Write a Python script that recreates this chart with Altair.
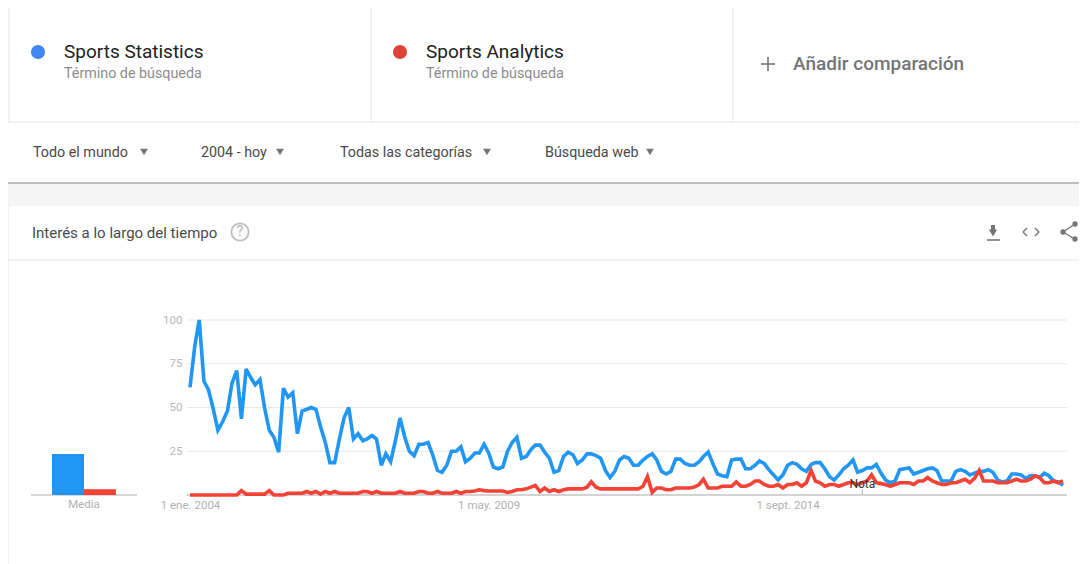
import altair as alt
import pandas as pd

blue = [61.5,85,100,65,60,49,37,42,48,64,71,43.5,72,67,63,66,50,37,33,24.5,
        61,56,58.5,35,48,49,50,49,39,30,18.5,18.5,32,44,50,32,35,31,32,34,
        32,17,23.5,19,31,44,33,25,22.5,29,29,30,23,14,13,17,25,25,27.5,19,
        21,24,24,29,24,16,15,16,25,30,33,21,22,26,28.5,28.5,24.5,21,13,14,
        22,24.5,23,18,20,23.5,23.5,22.5,21,14,10,13.5,20,22,21,17,17,20,22,23.5,
        20,13.5,12,13.5,20.5,20.5,18,17,17,19,22,24.5,18,12,11,10.5,20,20.5,20.5,15,
        15,17,19.5,18,14.5,11.5,8.7,11.5,17,18.5,17.5,15,13.5,17.5,18.5,18.5,15,10.5,8.5,11.5,
        15,17,20,13,14,15.5,15.5,17.5,12.5,8.5,7,8,14.5,15,15.5,12,13,14,15,15.5,
        14,8,8,8,13.5,14.5,13.5,11.5,12.5,13.5,13.5,14.5,13,8.5,7.5,8,12,12,11.5,9.5,
        11,11,10,12.5,11,8,7.5,5.5]
red = [0,0,0,0,0,0,0,0,0,0,0,2.5,0.5,0.5,0.5,0.5,0.5,2.5,0,0,
       0,1,1,1,1,2,1,2,0.5,2,1,2,1,1,1,1,1,2,2,1,
       2,1,1,1,1,2,1,1,1,2,2,1,1,2,1,1,1,2,1,2,
       2,2.3,3,2.5,2.3,2.3,2.3,2.3,1.5,2,3,3,3.5,4.5,5.5,2,4,2,3,2,
       3,3.5,3.5,3.5,3.5,4.5,7.5,4.5,3.5,3.5,3.5,3.5,3.5,3.5,3.5,3.5,3.5,5,10.5,1.5,
       4,4,3,3,4,4,4,4,4.5,6,9,4,4,4,5,5,5,7.5,5,5,
       6,8,8,6,5,5,6,4,6,6,7,5,7,14,8,7,5,6,6,5,
       6,7,7,6,7,8,11.5,7,6.5,6,5,6,7,7,7,6,8,8,10,8,
       7,6,6,7,7,8,9,7,9.5,14,8,8,8,7,7,7,8,9,8,8,
       9,11,10,7,7,8,7,8]
series_names = ["Sports Statistics", "Sports Analytics"]
series_colors = ["#2196f3", "#f44336"]
dot_colors = ["#4285f4", "#db4437"]
media_values = [23.5, 3.3]
y_ticks = [25, 50, 75, 100]
tick_years = ["2004", "2009", "2014"]
tick_dates = ["2004-01-01T00:00:00", "2009-05-01T00:00:00", "2014-09-01T00:00:00"]
tick_labels = ["1 ene. 2004", "1 may. 2009", "1 sept. 2014"]
note_date = "2016-01-01T00:00:00"
filters = ["Todo el mundo", "2004 - hoy", "Todas las categorías", "Búsqueda web"]

dates = pd.date_range("2004-01-01", periods=len(blue), freq="MS").strftime("%Y-%m-%dT00:00:00")
df = pd.DataFrame({
    "date": list(dates) * 2,
    "series": [series_names[0]] * len(blue) + [series_names[1]] * len(red),
    "value": blue + red,
})
df_media = pd.DataFrame({"series": series_names, "value": media_values})

M = 8
one = alt.Data(values=[{"a": 1}])
y_scale = alt.Scale(domain=[0, 100], range=[495 - M, 320 - M])
x_scale = alt.Scale(type="time", domain=[dates[0], dates[-1]], range=[190 - M, 1063 - M])
color_scale = alt.Scale(domain=series_names, range=series_colors)
FONT = "Roboto"


def txt(s, x, y, size, color, align="left", weight=400):
    return alt.Chart(one).mark_text(text=s, font=FONT, fontSize=size, color=color, align=align,
                                    baseline="middle", fontWeight=weight).encode(
        x=alt.value(x - M), y=alt.value(y - M))


def seg(x, y, x2, y2, color, w=1.0):
    return alt.Chart(one).mark_rule(color=color, strokeWidth=w).encode(
        x=alt.value(x - M), x2=alt.value(x2 - M), y=alt.value(y - M), y2=alt.value(y2 - M))


def box(x, y, x2, y2, color):
    return alt.Chart(one).mark_rect(color=color).encode(
        x=alt.value(x - M), x2=alt.value(x2 - M), y=alt.value(y - M), y2=alt.value(y2 - M))


def dot(x, y, size, color, shape="circle", filled=True, w=0.0):
    return alt.Chart(one).mark_point(shape=shape, size=size, filled=filled, color=color, opacity=1,
                                     strokeWidth=w).encode(x=alt.value(x - M), y=alt.value(y - M))


LINE = "#e6e6e6"
GREY = "#757575"
R = 1090
ui = [
    box(8, 184, R, 206, "#f5f5f5"),
    seg(9, 8, 9, 122, LINE), seg(371, 8, 371, 122, LINE), seg(733, 8, 733, 122, LINE),
    seg(8, 122, R, 122, LINE),
    seg(8, 183, R, 183, "#bdbdbd", 2),
    seg(8, 206, 8, 564, LINE),
    seg(8, 260, R, 260, LINE),
    dot(38, 52, 200, dot_colors[0]), dot(400, 52, 200, dot_colors[1]),
    txt(series_names[0], 64, 52, 19, "#212121"),
    txt(series_names[1], 426, 52, 19, "#212121"),
    txt("Término de búsqueda", 64, 74, 14.3, "#8c8c8c"),
    txt("Término de búsqueda", 426, 74, 14.3, "#8c8c8c"),
    seg(761, 64, 775, 64, GREY, 1.6), seg(768, 57, 768, 71, GREY, 1.6),
    txt("Añadir comparación", 793, 64, 19, GREY, weight=500),
    txt(filters[0], 33, 153, 14.3, "#4a4a4a"), dot(144, 152, 60, GREY, "triangle-down"),
    txt(filters[1], 201, 153, 14.3, "#4a4a4a"), dot(280, 152, 60, GREY, "triangle-down"),
    txt(filters[2], 340, 153, 14.3, "#4a4a4a"), dot(487, 152, 60, GREY, "triangle-down"),
    txt(filters[3], 545, 153, 14.3, "#4a4a4a"), dot(650, 152, 60, GREY, "triangle-down"),
    txt("Interés a lo largo del tiempo", 32, 233, 15, "#4a4a4a"),
    dot(240, 232, 300, "#bdbdbd", "circle", False, 1.8),
    txt("?", 240, 232, 14, "#bdbdbd", "center", 500),
    box(991, 225, 995, 231, GREY), dot(993, 233, 70, GREY, "triangle-down"),
    seg(987, 240, 1000, 240, GREY, 1.6),
    seg(1027, 228, 1023, 232, GREY, 1.4), seg(1023, 232, 1027, 236, GREY, 1.4),
    seg(1035, 228, 1039, 232, GREY, 1.4), seg(1039, 232, 1035, 236, GREY, 1.4),
    seg(1075, 224, 1063, 232, GREY, 1.4), seg(1063, 232, 1075, 239, GREY, 1.4),
    dot(1075, 224, 28, GREY), dot(1063, 232, 28, GREY), dot(1075, 239, 28, GREY),
]

grid = alt.Chart(pd.DataFrame({"t": y_ticks})).mark_rule(color="#e9e9e9", strokeWidth=1).encode(
    y=alt.Y("t:Q", scale=y_scale, axis=None),
    x=alt.value(187 - M), x2=alt.value(1067 - M))

base_main = alt.Chart(pd.DataFrame({"t": [0]})).mark_rule(color="#c4c4c4", strokeWidth=1.5).encode(
    y=alt.Y("t:Q", scale=y_scale, axis=None),
    x=alt.value(187 - M), x2=alt.value(1067 - M))
base_media = alt.Chart(pd.DataFrame({"t": [0]})).mark_rule(color="#b0b0b0", strokeWidth=1).encode(
    y=alt.Y("t:Q", scale=y_scale, axis=None),
    x=alt.value(31 - M), x2=alt.value(137 - M))

bars = alt.Chart(df_media).mark_bar().encode(
    x=alt.X("series:N", sort=series_names, axis=None,
            scale=alt.Scale(type="band", domain=series_names, range=[52 - M, 116 - M],
                            paddingInner=0, paddingOuter=0)),
    y=alt.Y("value:Q", scale=y_scale, axis=None),
    color=alt.Color("series:N", scale=color_scale, legend=None))

label_expr = "{" + ",".join(f"'{y}':'{l}'" for y, l in zip(tick_years, tick_labels)) + "}[timeFormat(datum.value,'%Y')]"

lines = alt.Chart(df).mark_line(strokeWidth=3.6, strokeJoin="miter", strokeMiterLimit=3).encode(
    x=alt.X("date:T", scale=x_scale, title=None,
            axis=alt.Axis(values=tick_dates, labelExpr=label_expr, grid=False, domain=False, ticks=False,
                          offset=-(556 - (495 - M)), labelPadding=4, labelColor="#b0b0b0", labelFont=FONT,
                          labelFontSize=11.5, labelOverlap=False, labelFlush=False)),
    y=alt.Y("value:Q", scale=y_scale, title=None,
            axis=alt.Axis(values=y_ticks, grid=False, domain=False, ticks=False, offset=-174, labelPadding=0,
                          labelColor="#b8b8b8", labelFont=FONT, labelFontSize=11.5)),
    color=alt.Color("series:N", scale=color_scale, legend=None),
    order=alt.Order("date:T"))

note_df = pd.DataFrame({"date": [note_date]})
note_tick = alt.Chart(note_df).mark_rule(color="#bbbbbb", strokeWidth=1).encode(
    x=alt.X("date:T", scale=x_scale, axis=None),
    y=alt.value(489 - M), y2=alt.value(495 - M))
note_text = alt.Chart(note_df).mark_text(text="Nota", font=FONT, fontSize=12, color="#333333", align="center",
                                         baseline="middle").encode(
    x=alt.X("date:T", scale=x_scale, axis=None),
    y=alt.value(484 - M))

chart = alt.layer(
    *ui, grid, base_main, base_media, bars, lines, note_tick, note_text,
    txt("Media", 84, 505, 11.5, "#b0b0b0", "center"),
).resolve_scale(x="independent").resolve_axis(y="independent").properties(
    width=1071, height=556, padding=0, autosize=alt.AutoSizeParams(type="none"), background="white"
).configure_view(stroke=None)

chart.save("out.html", embed_options={"renderer": "svg", "actions": False})
